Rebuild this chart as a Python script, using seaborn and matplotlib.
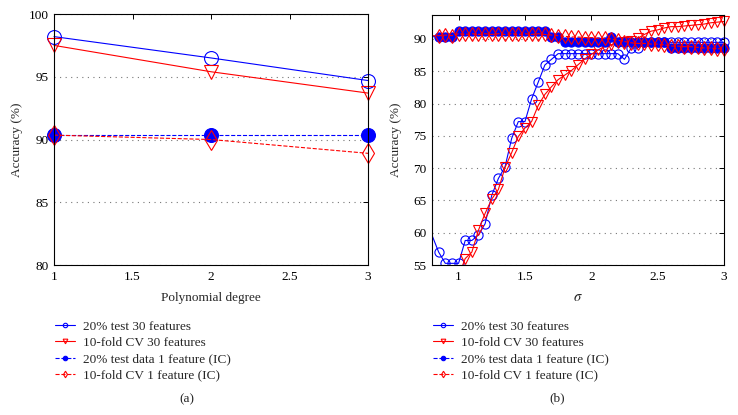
import numpy as np
import pandas as pd
import matplotlib
matplotlib.use("Agg")
import matplotlib.pyplot as plt
from matplotlib.patches import Rectangle
import seaborn as sns

# ---------------- data: panel (a) ----------------
degree = [1, 2, 3]
a_test30 = [98.2, 96.5, 94.7]
a_cv30 = [97.5, 95.4, 93.7]
a_test1 = [90.35, 90.35, 90.35]
a_cv1 = [90.35, 90.0, 88.9]

# ---------------- data: panel (b) ----------------
sigma = [0.75, 0.85, 0.90, 0.95, 1.00, 1.05, 1.10, 1.15, 1.20,
         1.25, 1.30, 1.35, 1.40, 1.45, 1.50, 1.55, 1.60, 1.65, 1.70,
         1.75, 1.80, 1.85, 1.90, 1.95, 2.00, 2.05, 2.10, 2.15, 2.20,
         2.25, 2.30, 2.35, 2.40, 2.45, 2.50, 2.55, 2.60, 2.65, 2.70,
         2.75, 2.80, 2.85, 2.90, 2.95, 3.00]
b_test30 = [62.2, 57.0, 55.26, 55.26, 55.26, 58.8, 58.8, 59.65, 61.4,
            65.8, 68.4, 70.2, 74.6, 77.2, 77.2, 80.7, 83.3, 85.96, 86.84,
            87.72, 87.72, 87.72, 87.72, 87.72, 87.72, 87.72, 87.72, 87.72, 87.72,
            86.84, 88.6, 88.6, 89.47, 89.47, 89.47, 89.47, 89.47, 89.47, 89.47,
            89.47, 89.47, 89.47, 89.47, 89.47, 89.47]
b_cv30 = [49.0, 50.5, 51.5, 52.5, 53.3, 56.0, 57.0, 60.4, 63.0,
          65.2, 66.7, 70.1, 72.4, 74.9, 76.2, 77.2, 79.7, 81.4, 82.6,
          83.7, 84.4, 85.1, 86.0, 86.9, 87.6, 88.3, 88.8, 89.1, 89.4,
          89.5, 89.7, 90.1, 90.7, 91.2, 91.4, 91.7, 91.9, 91.9, 92.0,
          92.1, 92.2, 92.3, 92.5, 92.6, 92.7]
b_test1 = [90.35, 90.35, 90.35, 90.35, 91.23, 91.23, 91.23, 91.23, 91.23,
           91.23, 91.23, 91.23, 91.23, 91.23, 91.23, 91.23, 91.23, 91.23, 90.35,
           90.35, 89.47, 89.47, 89.47, 89.47, 89.47, 89.47, 89.47, 90.35, 89.47,
           89.47, 89.47, 89.47, 89.47, 89.47, 89.47, 89.47, 88.6, 88.6, 88.6,
           88.6, 88.6, 88.6, 88.6, 88.6, 88.6]
b_cv1 = [90.5, 90.5, 90.6, 90.5, 90.8, 90.7, 90.8, 90.7, 90.8,
         90.7, 90.8, 90.7, 90.8, 90.7, 90.8, 90.7, 90.8, 90.7, 90.6,
         90.5, 90.4, 90.3, 90.3, 90.2, 90.2, 90.1, 90.1, 90.0, 89.8,
         89.6, 89.4, 89.3, 89.3, 89.2, 89.2, 89.1, 88.9, 88.9, 88.8,
         88.8, 88.7, 88.6, 88.6, 88.5, 88.4]

labels = ["20% test 30 features", "10-fold CV 30 features",
          "20% test data 1 feature (IC)", "10-fold CV 1 feature (IC)"]

sns.set_style("white")
plt.rcParams["font.family"] = ["Liberation Serif", "DejaVu Serif"]
plt.rcParams["mathtext.fontset"] = "stix"

BLUE = (0, 0, 1)
RED = (1, 0, 0)
FS = 9.5

fig = plt.figure(figsize=(7.38, 4.15), dpi=100)
axA = fig.add_axes([0.0732, 0.3614, 0.4255, 0.6048])
axB = fig.add_axes([0.5854, 0.3614, 0.3957, 0.6024])


def draw(ax, x, ys, ms):
    styles = [
        dict(color=BLUE, marker="o", mfc="none", mec=BLUE, linestyle="-"),
        dict(color=RED, marker="v", mfc="none", mec=RED, linestyle="-"),
        dict(color=BLUE, marker="o", mfc=BLUE, mec=BLUE, linestyle="--"),
        dict(color=RED, marker="d", mfc="none", mec=RED, linestyle="--"),
    ]
    sizes = [ms, ms * 1.05, ms, ms * 1.05]
    for y, st, lab, s in zip(ys, styles, labels, sizes):
        df = pd.DataFrame({"x": x, "y": y})
        sns.lineplot(data=df, x="x", y="y", ax=ax, label=lab, lw=0.8,
                     markersize=s, mew=0.8, sort=False, estimator=None, **st)


draw(axA, degree, [a_test30, a_cv30, a_test1, a_cv1], 10)
draw(axB, sigma, [b_test30, b_cv30, b_test1, b_cv1], 6.6)

for ln in axA.get_lines():
    ln.set_clip_on(False)
for ln in axB.get_lines():
    ln.set_clip_path(Rectangle((0, 0), 1.05, 1.06, transform=axB.transAxes))

axA.set_xlim(1, 3)
axA.set_ylim(80, 100)
axA.set_xticks([1, 1.5, 2, 2.5, 3])
axA.set_xticklabels(["1", "1.5", "2", "2.5", "3"])
axA.set_yticks([80, 85, 90, 95, 100])

axB.set_xlim(0.8, 3)
axB.set_ylim(55, 93.7)
axB.set_xticks([1, 1.5, 2, 2.5, 3])
axB.set_xticklabels(["1", "1.5", "2", "2.5", "3"])
axB.set_yticks([55, 60, 65, 70, 75, 80, 85, 90])

for ax in (axA, axB):
    for sp in ax.spines.values():
        sp.set_visible(True)
        sp.set_color("black")
        sp.set_linewidth(0.8)
    ax.tick_params(direction="in", top=True, right=True, length=3.5,
                   width=0.7, labelsize=FS, pad=4, colors="black")
    ax.yaxis.grid(True, linestyle=(0, (1, 4)), color="#777777", lw=0.8)
    ax.xaxis.grid(False)
    ax.set_ylabel("Accuracy (%)", fontsize=FS)
    ax.get_legend().remove()

axA.set_xlabel("Polynomial degree", fontsize=FS, labelpad=7)
axB.set_xlabel(r"$\sigma$", fontsize=FS + 1, labelpad=6)
axA.yaxis.set_label_coords(-0.099, 0.5)
axB.yaxis.set_label_coords(-0.103, 0.5)

for ax, xl, mscale in ((axA, 55 / 738, 0.32), (axB, 433 / 738, 0.48)):
    h, l = ax.get_legend_handles_labels()
    fig.legend(h, l, loc="upper left", bbox_to_anchor=(xl, 1 - 320.5 / 415),
               frameon=False, fontsize=FS, handlelength=1.55,
               handletextpad=0.6, labelspacing=0.31, markerscale=mscale,
               borderaxespad=0, borderpad=0)

fig.text(187 / 738, 1 - 399 / 415, "(a)", ha="center", va="center", fontsize=FS)
fig.text(557 / 738, 1 - 398 / 415, "(b)", ha="center", va="center", fontsize=FS)

fig.savefig("out.png", dpi=100)
